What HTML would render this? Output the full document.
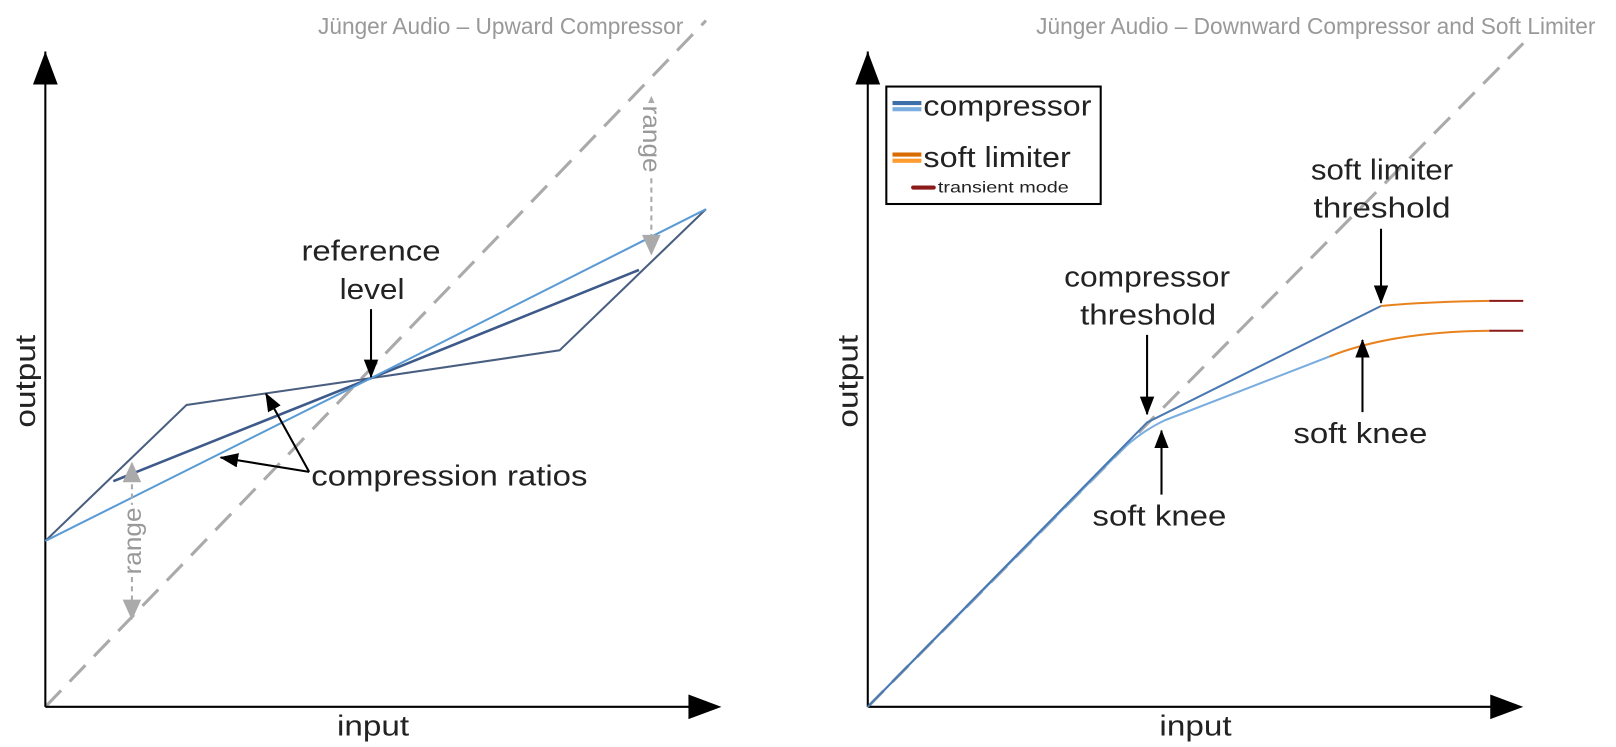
<!DOCTYPE html>
<html><head><meta charset="utf-8"><style>
html,body{margin:0;padding:0;background:#fff;}
svg{display:block;font-family:"Liberation Sans",sans-serif;}
</style></head><body>
<svg width="1616" height="747" viewBox="0 0 1568 725" preserveAspectRatio="none" xmlns="http://www.w3.org/2000/svg">
<defs>
<marker id="ahs" markerWidth="18" markerHeight="18" refX="17" refY="9" orient="auto" markerUnits="userSpaceOnUse" viewBox="0 0 18 18"><path d="M0,2 L18,9 L0,16 z" fill="#000"/></marker>
</defs>
<text x="663" y="33" font-size="22" fill="#999" text-anchor="end">Jünger Audio – Upward Compressor</text>
<text x="1548" y="33" font-size="22" fill="#999" text-anchor="end">Jünger Audio – Downward Compressor and Soft Limiter</text>

<!-- LEFT CHART -->
<line x1="44" y1="686" x2="685" y2="20" stroke="#aaa" stroke-width="3" stroke-dasharray="22,12"/>
<line x1="44" y1="686" x2="44" y2="50" stroke="#000" stroke-width="2"/>
<path d="M32,82 L44,50 L56,82 z"/>
<line x1="44" y1="686" x2="670" y2="686" stroke="#000" stroke-width="2"/>
<path d="M668,674 L700,686 L668,698 z"/>
<polyline points="44,525 181,393 360,367 543,340 685,203" fill="none" stroke="#4a5f80" stroke-width="2"/>
<polyline points="110,467 360,367 620,262" fill="none" stroke="#3d5a8a" stroke-width="2.5"/>
<polyline points="44,525 360,367 685,203" fill="none" stroke="#5b9bd5" stroke-width="2"/>
<line x1="128" y1="470" x2="128" y2="600" stroke="#aaa" stroke-width="2" stroke-dasharray="5,4"/>
<path d="M119,468 L128,448 L137,468 z" fill="#aaa"/>
<path d="M119,582 L128,602 L137,582 z" fill="#aaa"/>
<rect x="116" y="490" width="24" height="70" fill="#fff"/>
<text transform="translate(137,525) rotate(-90)" font-size="24" fill="#999" text-anchor="middle" textLength="65" lengthAdjust="spacingAndGlyphs">range</text>
<line x1="632" y1="110" x2="632" y2="230" stroke="#aaa" stroke-width="2" stroke-dasharray="5,4"/>
<path d="M623,113 L632,93 L641,113 z" fill="#aaa"/>
<path d="M623,228 L632,248 L641,228 z" fill="#aaa"/>
<rect x="620" y="100" width="24" height="70" fill="#fff"/>
<text transform="translate(624,135) rotate(90)" font-size="24" fill="#999" text-anchor="middle" textLength="65" lengthAdjust="spacingAndGlyphs">range</text>
<text x="360" y="253" font-size="28" text-anchor="middle" fill="#222" textLength="135" lengthAdjust="spacingAndGlyphs">reference</text>
<text x="361" y="290" font-size="28" text-anchor="middle" fill="#222" textLength="63" lengthAdjust="spacingAndGlyphs">level</text>
<line x1="360" y1="300" x2="360" y2="366" stroke="#000" stroke-width="2" marker-end="url(#ahs)"/>
<text x="302" y="471" font-size="28" fill="#222" textLength="268" lengthAdjust="spacingAndGlyphs">compression ratios</text>
<line x1="300" y1="458" x2="258" y2="382" stroke="#000" stroke-width="2" marker-end="url(#ahs)"/>
<line x1="300" y1="458" x2="214" y2="444" stroke="#000" stroke-width="2" marker-end="url(#ahs)"/>
<text transform="translate(34,370) rotate(-90)" font-size="28" text-anchor="middle" fill="#222" textLength="90" lengthAdjust="spacingAndGlyphs">output</text>
<text x="362" y="714" font-size="28" text-anchor="middle" fill="#222" textLength="70" lengthAdjust="spacingAndGlyphs">input</text>

<!-- RIGHT CHART -->
<line x1="842" y1="686" x2="1478" y2="42" stroke="#aaa" stroke-width="3" stroke-dasharray="22,12"/>
<line x1="842" y1="686" x2="842" y2="50" stroke="#000" stroke-width="2"/>
<path d="M830,82 L842,50 L854,82 z"/>
<line x1="842" y1="686" x2="1450" y2="686" stroke="#000" stroke-width="2"/>
<path d="M1446,674 L1478,686 L1446,698 z"/>
<path d="M842,686 L1085,440 Q1105,420 1130,408 L1290,346" fill="none" stroke="#7aaee0" stroke-width="2"/>
<path d="M1290,346 Q1350,322 1445,321" fill="none" stroke="#e8821e" stroke-width="2"/>
<line x1="1445" y1="321" x2="1478" y2="321" stroke="#8b1a1a" stroke-width="2"/>
<polyline points="842,686 1113,410 1340,297" fill="none" stroke="#4a78b0" stroke-width="2"/>
<path d="M1340,297 Q1380,293 1445,292" fill="none" stroke="#e8821e" stroke-width="2"/>
<line x1="1445" y1="292" x2="1478" y2="292" stroke="#8b1a1a" stroke-width="2"/>
<rect x="860" y="84" width="208" height="114" fill="#fff" stroke="#000" stroke-width="2"/>
<rect x="866" y="98" width="28" height="4" fill="#3d6fa8"/>
<rect x="866" y="104" width="28" height="4" fill="#7aaee0"/>
<text x="896" y="112" font-size="28" fill="#222" textLength="163" lengthAdjust="spacingAndGlyphs">compressor</text>
<rect x="866" y="148" width="28" height="4" fill="#d96b00"/>
<rect x="866" y="154" width="28" height="4" fill="#ff9a2e"/>
<text x="896" y="162" font-size="28" fill="#222" textLength="143" lengthAdjust="spacingAndGlyphs">soft limiter</text>
<rect x="884" y="180" width="24" height="4" rx="2" fill="#8b1a1a"/>
<text x="910" y="187" font-size="15" fill="#222" textLength="127" lengthAdjust="spacingAndGlyphs">transient mode</text>
<text x="1341" y="174" font-size="28" text-anchor="middle" fill="#222" textLength="138" lengthAdjust="spacingAndGlyphs">soft limiter</text>
<text x="1341" y="211" font-size="28" text-anchor="middle" fill="#222" textLength="133" lengthAdjust="spacingAndGlyphs">threshold</text>
<line x1="1340" y1="222" x2="1340" y2="294" stroke="#000" stroke-width="2" marker-end="url(#ahs)"/>
<text x="1113" y="278" font-size="28" text-anchor="middle" fill="#222" textLength="161" lengthAdjust="spacingAndGlyphs">compressor</text>
<text x="1114" y="315" font-size="28" text-anchor="middle" fill="#222" textLength="132" lengthAdjust="spacingAndGlyphs">threshold</text>
<line x1="1113" y1="325" x2="1113" y2="402" stroke="#000" stroke-width="2" marker-end="url(#ahs)"/>
<text x="1125" y="510" font-size="28" text-anchor="middle" fill="#222" textLength="130" lengthAdjust="spacingAndGlyphs">soft knee</text>
<line x1="1127" y1="480" x2="1127" y2="418" stroke="#000" stroke-width="2" marker-end="url(#ahs)"/>
<text x="1320" y="430" font-size="28" text-anchor="middle" fill="#222" textLength="130" lengthAdjust="spacingAndGlyphs">soft knee</text>
<line x1="1322" y1="400" x2="1322" y2="330" stroke="#000" stroke-width="2" marker-end="url(#ahs)"/>
<text transform="translate(832,370) rotate(-90)" font-size="28" text-anchor="middle" fill="#222" textLength="90" lengthAdjust="spacingAndGlyphs">output</text>
<text x="1160" y="714" font-size="28" text-anchor="middle" fill="#222" textLength="70" lengthAdjust="spacingAndGlyphs">input</text>
</svg>
</body></html>
